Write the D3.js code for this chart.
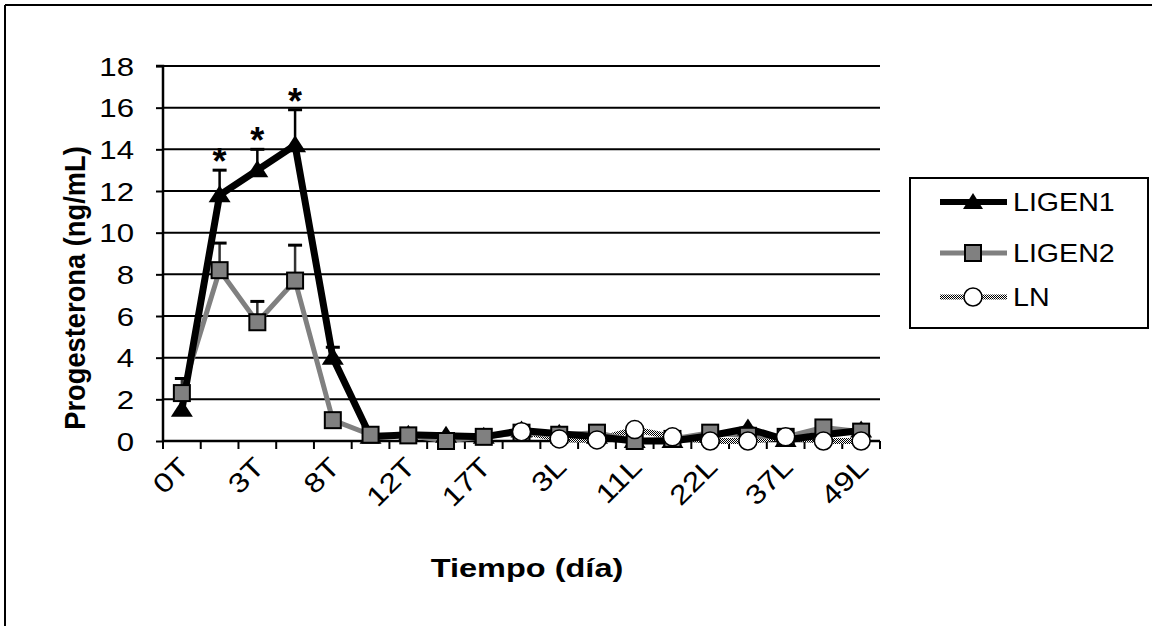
<!DOCTYPE html>
<html><head><meta charset="utf-8">
<script src="https://cdn.jsdelivr.net/npm/d3@7"></script>
<style>
html,body{margin:0;padding:0;background:#fff;}
svg{display:block;font-family:"Liberation Sans",Arial,sans-serif;}
</style></head>
<body>
<svg id="chart" width="1156" height="626"></svg>
<script>
// ---- data ----
const tickLabels = ["0T","","3T","","8T","","12T","","17T","","3L","","11L","","22L","","37L","","49L"];
const ligen1 = [1.5, 11.8, 13.0, 14.2, 4.0, 0.2, 0.3, 0.25, 0.2, 0.5, 0.35, 0.2, 0.0, 0.0, 0.25, 0.6, 0.05, 0.3, 0.5];
const ligen1Err = [0, 1.2, 1.0, 1.7, 0.5, 0, 0, 0, 0, 0, 0, 0, 0, 0, 0, 0, 0, 0, 0];
const ligen2 = [2.3, 8.2, 5.7, 7.7, 1.0, 0.3, 0.27, 0.0, 0.2, 0.4, 0.3, 0.4, 0.0, 0.1, 0.4, 0.25, 0.2, 0.65, 0.45];
const ligen2Err = [0.7, 1.3, 1.0, 1.7, 0, 0, 0, 0, 0, 0, 0, 0, 0, 0, 0, 0, 0, 0, 0];
const ln = [null, null, null, null, null, null, null, null, null, 0.45, 0.1, 0.05, 0.55, 0.2, 0.0, 0.0, 0.2, 0.0, 0.0];
const starIdx = [1, 2, 3];
const yTicks = [0, 2, 4, 6, 8, 10, 12, 14, 16, 18];
const seriesNames = ["LIGEN1", "LIGEN2", "LN"];

const svg = d3.select("#chart");
const defs = svg.append("defs");
const pat = defs.append("pattern").attr("id","checker").attr("width",2).attr("height",2)
  .attr("patternUnits","userSpaceOnUse");
pat.append("rect").attr("width",2).attr("height",2).attr("fill","#fff");
pat.append("rect").attr("x",0).attr("y",0).attr("width",1).attr("height",1).attr("fill","#000");
pat.append("rect").attr("x",1).attr("y",1).attr("width",1).attr("height",1).attr("fill","#000");

// frame (top and left edges visible)
svg.append("line").attr("x1",5).attr("y1",5).attr("x2",1152).attr("y2",5).attr("stroke","#000").attr("stroke-width",2);
svg.append("line").attr("x1",5).attr("y1",5).attr("x2",5).attr("y2",626).attr("stroke","#000").attr("stroke-width",2);

const L = 163, R = 880, T = 66, B = 441;
const SX = 1.2; // horizontal stretch of the reference lettering
const idx = d3.range(tickLabels.length);
const x = d3.scaleBand().domain(idx).range([L, R]);
const xc = i => x(i) + x.bandwidth()/2;
const y = d3.scaleLinear().domain([0, 18]).range([B, T]);

// gridlines
svg.append("g").selectAll("line").data(yTicks.filter(d => d > 0)).join("line")
  .attr("x1", L).attr("x2", R).attr("y1", d => y(d)).attr("y2", d => y(d))
  .attr("stroke","#000").attr("stroke-width",2);

// y axis
const yAxis = svg.append("g").attr("transform",`translate(${L},0)`)
  .call(d3.axisLeft(y).tickValues(yTicks).tickSize(7).tickPadding(22));
yAxis.select(".domain").attr("stroke-width",2.5).attr("d", `M-7,${T}H0V${B}`);
yAxis.selectAll(".tick line").attr("stroke-width",2);
yAxis.selectAll(".tick text")
  .attr("x", null).attr("dy", null)
  .attr("transform", `translate(-29,0) scale(${SX},1)`)
  .attr("dominant-baseline","central")
  .attr("font-size",26).attr("fill","#000")
  .attr("font-family","'Liberation Sans',Arial,sans-serif");

// x axis
const xAxis = svg.append("g").attr("transform",`translate(0,${B})`);
xAxis.append("line").attr("x1",L).attr("x2",R).attr("y1",0).attr("y2",0).attr("stroke","#000").attr("stroke-width",2.5);
const bounds = d3.range(tickLabels.length + 1).map(i => i < tickLabels.length ? x(i) : R);
xAxis.selectAll("line.tk").data(bounds).join("line").attr("class","tk")
  .attr("x1", d => d).attr("x2", d => d).attr("y1", 0).attr("y2", 8)
  .attr("stroke","#000").attr("stroke-width",2);
xAxis.selectAll("text").data(idx.filter(i => tickLabels[i] !== "")).join("text")
  .attr("transform", i => `translate(${xc(i)-5},${14}) rotate(-45) scale(${SX},1)`)
  .attr("text-anchor","end").attr("dy","0.72em")
  .attr("font-size",27).attr("fill","#000")
  .text(i => tickLabels[i]);

// axis titles
svg.append("text").attr("transform",`translate(85,${288}) rotate(-90) scale(1.05,1.12)`)
  .attr("text-anchor","middle").attr("font-size",26).attr("font-weight","bold")
  .text("Progesterona (ng/mL)");
svg.append("text").attr("transform",`translate(527,577) scale(1.25,1)`)
  .attr("text-anchor","middle").attr("font-size",26).attr("font-weight","bold")
  .text("Tiempo (día)");

// lines
const lineGenIdx = d3.line().defined(d => d.v != null).x(d => xc(d.i)).y(d => y(d.v));
svg.append("path").attr("d", lineGenIdx(ln.map((v,i)=>({v,i})))).attr("fill","none")
  .attr("stroke","url(#checker)").attr("stroke-width",6);
svg.append("path").attr("d", lineGenIdx(ligen2.map((v,i)=>({v,i})))).attr("fill","none")
  .attr("stroke","#808080").attr("stroke-width",5).attr("stroke-linejoin","round");
svg.append("path").attr("d", lineGenIdx(ligen1.map((v,i)=>({v,i})))).attr("fill","none")
  .attr("stroke","#000").attr("stroke-width",7).attr("stroke-linejoin","round");

// error bars
function errBars(vals, errs, color){
  const g = svg.append("g");
  const data = vals.map((v,i)=>({v, e: errs[i], i})).filter(d => d.e > 0);
  g.selectAll("line.s").data(data).join("line").attr("class","s")
    .attr("x1", d => xc(d.i)).attr("x2", d => xc(d.i))
    .attr("y1", d => y(d.v)).attr("y2", d => y(d.v + d.e))
    .attr("stroke", color).attr("stroke-width", 2.5);
  g.selectAll("line.c").data(data).join("line").attr("class","c")
    .attr("x1", d => xc(d.i) - 7).attr("x2", d => xc(d.i) + 7)
    .attr("y1", d => y(d.v + d.e)).attr("y2", d => y(d.v + d.e))
    .attr("stroke", "#000").attr("stroke-width", 3);
}
errBars(ligen1, ligen1Err, "#000");
errBars(ligen2, ligen2Err, "#333");

// markers
function drawMarkers(vals, kind){
  const g = svg.append("g");
  const data = vals.map((v,i)=>({v,i})).filter(d => d.v != null);
  if (kind === "tri") {
    g.selectAll("path").data(data).join("path")
      .attr("d", "M0,-10L11,7L-11,7Z")
      .attr("transform", d => `translate(${xc(d.i)},${y(d.v)})`).attr("fill","#000");
  } else if (kind === "sq") {
    g.selectAll("rect").data(data).join("rect")
      .attr("x", d => xc(d.i) - 8).attr("y", d => y(d.v) - 8).attr("width",16).attr("height",16)
      .attr("fill","#808080").attr("stroke","#000").attr("stroke-width",2);
  } else {
    g.selectAll("circle").data(data).join("circle")
      .attr("cx", d => xc(d.i)).attr("cy", d => y(d.v)).attr("r",9)
      .attr("fill","#fff").attr("stroke","#000").attr("stroke-width",1.5);
  }
}
drawMarkers(ligen1, "tri");
drawMarkers(ligen2, "sq");
drawMarkers(ln, "circ");

// asterisks
svg.append("g").selectAll("text").data(starIdx).join("text")
  .attr("x", i => xc(i)).attr("y", i => y(ligen1[i] + ligen1Err[i]) + 4)
  .attr("text-anchor","middle").attr("font-size",36).attr("font-weight","bold")
  .text("*");

// legend
const lg = svg.append("g");
lg.append("rect").attr("x",910).attr("y",178).attr("width",238).attr("height",150)
  .attr("fill","#fff").attr("stroke","#000").attr("stroke-width",2);
const ly = [202, 253, 297];
seriesNames.forEach((name, k) => {
  const yy = ly[k];
  const stroke = k === 0 ? "#000" : k === 1 ? "#808080" : "url(#checker)";
  const sw = k === 0 ? 6 : 5;
  lg.append("line").attr("x1",940).attr("x2",1007).attr("y1",yy).attr("y2",yy)
    .attr("stroke",stroke).attr("stroke-width",sw);
  if (k === 0) lg.append("path").attr("d","M0,-9L10,7L-10,7Z").attr("transform",`translate(973,${yy})`).attr("fill","#000");
  if (k === 1) lg.append("rect").attr("x",965).attr("y",yy-8).attr("width",16).attr("height",16)
    .attr("fill","#808080").attr("stroke","#000").attr("stroke-width",2);
  if (k === 2) lg.append("circle").attr("cx",973).attr("cy",yy).attr("r",9)
    .attr("fill","#fff").attr("stroke","#000").attr("stroke-width",1.5);
  lg.append("text").attr("transform",`translate(1013,${yy}) scale(1.1,1)`).attr("dy","0.36em")
    .attr("font-size",26).attr("fill","#000").text(name);
});
</script>
</body></html>
